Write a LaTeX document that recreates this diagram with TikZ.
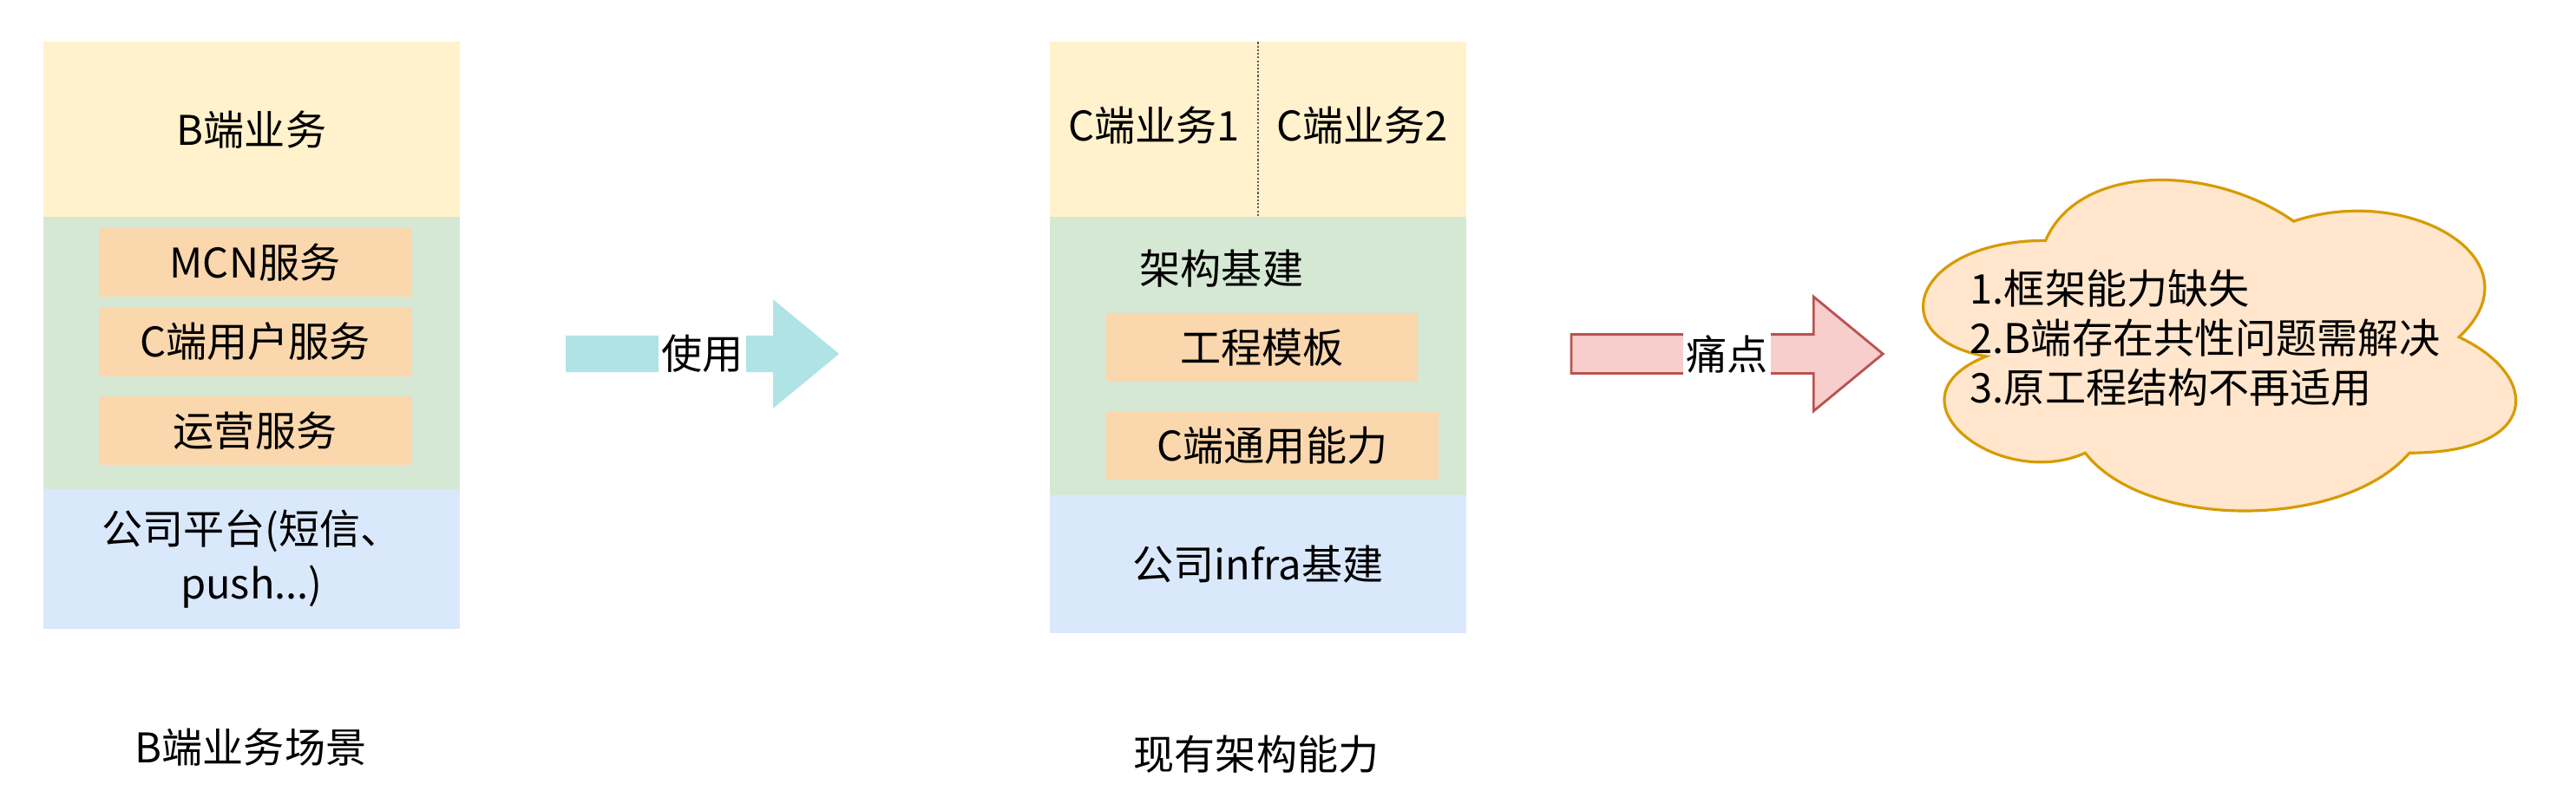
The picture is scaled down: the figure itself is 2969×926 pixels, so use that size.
\documentclass[tikz,border=0pt]{standalone}
\usepackage{fontspec}
\setmainfont{Noto Sans CJK SC}
\usepackage{xcolor}
\usepackage{tikz}
\usetikzlibrary{shapes.arrows, positioning, calc}

\definecolor{layeryellow}{HTML}{FFF2CC}
\definecolor{layergreen}{HTML}{D5E8D4}
\definecolor{layerblue}{HTML}{DAE8FC}
\definecolor{svcorange}{HTML}{FAD7AC}
\definecolor{usecyan}{HTML}{B0E3E6}
\definecolor{painfill}{HTML}{F8CECC}
\definecolor{painline}{HTML}{B85450}
\definecolor{cloudfill}{HTML}{FFE6CC}
\definecolor{cloudline}{HTML}{D79B00}

\begin{document}
\begin{tikzpicture}[x=0.01cm, y=-0.01cm,
    txt/.style={font=\fontsize{13.4}{16}\selectfont, text=black},
    layer/.style={txt, rectangle, minimum width=4.8cm, inner sep=0pt, outer sep=0pt, align=center},
    svc/.style={txt, rectangle, fill=svcorange, minimum height=0.79cm, inner sep=0pt, outer sep=0pt},
    blockarrow/.style={single arrow, single arrow tip angle=79, inner xsep=0pt, outer sep=0pt, anchor=tail},
    arrowtext/.style={txt, fill=white, inner xsep=1pt, inner ysep=3pt},
    divider/.style={draw=black!65, line width=0.6pt, dash pattern=on 0.6pt off 0.6pt}]

    \useasboundingbox (0,0) rectangle (2969,926);

    % B端业务场景
    \node (bbiz) [layer, fill=layeryellow, minimum height=2.015cm] at (290,149.25) {B端业务};
    \node (bsvc) [layer, fill=layergreen, minimum height=3.14cm, below=0pt of bbiz] {};
    \node (bplat) [layer, fill=layerblue, minimum height=1.61cm, below=0pt of bsvc,
        font=\fontsize{13.4}{17.9}\selectfont] {公司平台(短信、\\push...)};
    \node (mcn) [svc, minimum width=3.6cm] at (294,302.5) {MCN服务};
    \node (cuser) [svc, minimum width=3.6cm, minimum height=0.8cm, below=0.12cm of mcn] {C端用户服务};
    \node (ops) [svc, minimum width=3.6cm, below=0.23cm of cuser] {运营服务};
    \node (bscene) [txt] at (289,862) {B端业务场景};

    % 现有架构能力
    \node (cbiz) [layer, fill=layeryellow, minimum height=2.015cm] at (1450,149.25) {};
    \node (cbiz1) [txt] at (1330,145) {C端业务1};
    \node (cbiz2) [txt] at (1570,145) {C端业务2};
    \draw[divider] (cbiz.north) -- (cbiz.south);
    \node (arch) [layer, fill=layergreen, minimum height=3.21cm, below=0pt of cbiz] {};
    \node (archtitle) [txt, anchor=west, inner sep=0pt] at (1313,310) {架构基建};
    \node (tmpl) [svc, minimum width=3.59cm] at (1454.5,400.5) {工程模板};
    \node (cabil) [svc, minimum width=3.83cm, below=0.34cm of tmpl.south west, anchor=north west] {C端通用能力};
    \node (infra) [layer, fill=layerblue, minimum height=1.585cm, below=0pt of arch] {公司infra基建};
    \node (ccap) [txt] at (1448,870) {现有架构能力};

    % arrows
    \node (use) [blockarrow, fill=usecyan, inner ysep=0.205cm, single arrow head extend=0.415cm,
        minimum width=1.24cm, minimum height=3.15cm] at (652,408) {};
    \node (uselabel) [arrowtext] at ($(use.tail)!0.5!(use.tip)$) {使用};
    \node (pain) [blockarrow, fill=painfill, draw=painline, line width=0.8pt, inner ysep=0.21cm,
        single arrow head extend=0.435cm, minimum width=1.29cm, minimum height=3.59cm] at (1811,408) {};
    \node (painlabel) [arrowtext] at ($(pain.tail)!0.5!(pain.tip)$) {痛点};

    % cloud
    \begin{scope}[shift={(2167,166)}, x=7.62cm, y=-4.45cm]
      \draw[cloudline, fill=cloudfill, line width=0.9pt] (0.25,0.25)
        .. controls (0.05,0.25) and (0,0.5) .. (0.16,0.55)
        .. controls (0,0.66) and (0.18,0.9) .. (0.31,0.8)
        .. controls (0.4,1) and (0.7,1) .. (0.8,0.8)
        .. controls (1,0.8) and (1,0.6) .. (0.875,0.5)
        .. controls (1,0.3) and (0.8,0.1) .. (0.625,0.2)
        .. controls (0.5,0.05) and (0.3,0.05) .. (0.25,0.25) -- cycle;
    \end{scope}
    \node (pains) [txt, align=left, anchor=west, inner sep=0pt, font=\fontsize{13.4}{16.2}\selectfont]
        at (2270,390) {1.框架能力缺失\\2.B端存在共性问题需解决\\3.原工程结构不再适用};
\end{tikzpicture}
\end{document}
